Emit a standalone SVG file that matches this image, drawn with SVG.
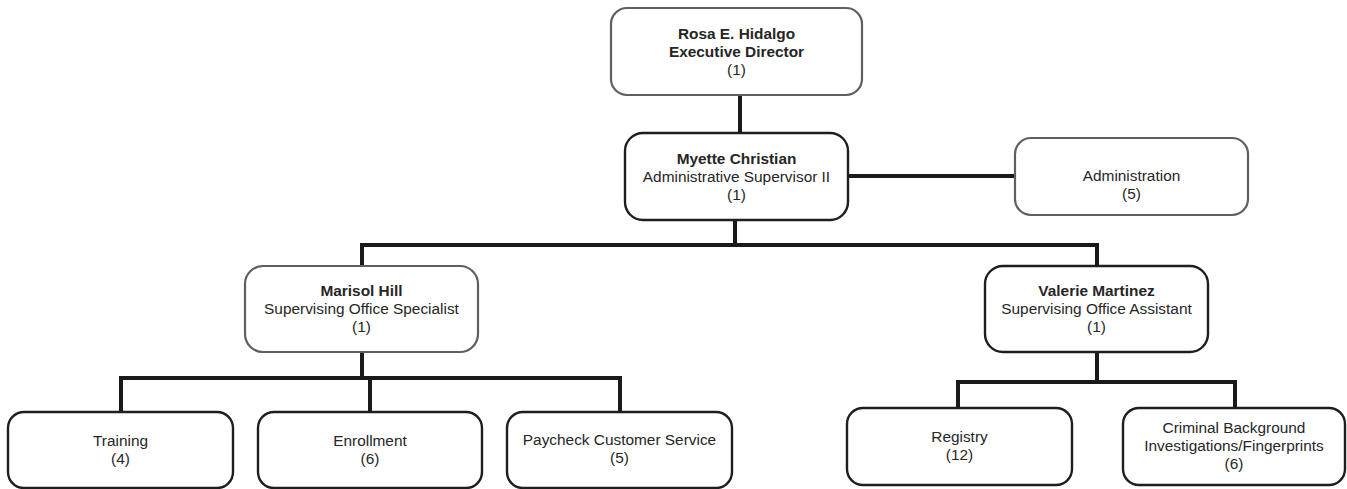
<svg xmlns="http://www.w3.org/2000/svg" width="1347" height="489" viewBox="0 0 1347 489">
<style>
.bg{fill:#ffffff}
.box{fill:#ffffff;stroke:#1e1e1e;stroke-width:2.4}
.gbox{fill:#ffffff;stroke:#5f5f5f;stroke-width:2.2}
.conn{fill:none;stroke:#1a1a1a;stroke-width:4;stroke-linecap:butt;stroke-linejoin:miter}
text{font-family:"Liberation Sans",Arial,sans-serif;font-size:15.4px;fill:#262626;text-anchor:middle}
.b{font-weight:bold}
</style>
<rect class="bg" x="0" y="0" width="1347" height="489"/>
<g id="connectors">
<path class="conn" d="M740 95 V133"/>
<path class="conn" d="M848 176 H1015"/>
<path class="conn" d="M735 220 V245"/>
<path class="conn" d="M362 266 V245 H1097 V266"/>
<path class="conn" d="M362 352 V378"/>
<path class="conn" d="M121 412 V378 H620 V412"/>
<path class="conn" d="M370 378 V412"/>
<path class="conn" d="M1097 352 V382"/>
<path class="conn" d="M958 408 V382 H1235 V408"/>
</g>
<g id="rosa">
<rect class="gbox" x="611" y="8" width="251" height="87" rx="16"/>
<text class="b" x="736.5" y="39">Rosa E. Hidalgo</text>
<text class="b" x="736.5" y="57">Executive Director</text>
<text x="736.5" y="75">(1)</text>
</g>
<g id="myette">
<rect class="box" x="625" y="133" width="223" height="87" rx="18"/>
<text class="b" x="736.5" y="164">Myette Christian</text>
<text x="736.5" y="182">Administrative Supervisor II</text>
<text x="736.5" y="200">(1)</text>
</g>
<g id="administration">
<rect class="gbox" x="1015" y="138" width="233" height="77" rx="16"/>
<text x="1131.5" y="181">Administration</text>
<text x="1131.5" y="199">(5)</text>
</g>
<g id="marisol">
<rect class="gbox" x="245" y="266" width="233" height="86" rx="18"/>
<text class="b" x="361.5" y="296">Marisol Hill</text>
<text x="361.5" y="314">Supervising Office Specialist</text>
<text x="361.5" y="332">(1)</text>
</g>
<g id="valerie">
<rect class="box" x="985" y="266" width="223" height="86" rx="18"/>
<text class="b" x="1096.5" y="296">Valerie Martinez</text>
<text x="1096.5" y="314">Supervising Office Assistant</text>
<text x="1096.5" y="332">(1)</text>
</g>
<g id="training">
<rect class="box" x="8" y="412" width="225" height="76" rx="16"/>
<text x="120.5" y="446">Training</text>
<text x="120.5" y="464">(4)</text>
</g>
<g id="enrollment">
<rect class="box" x="258" y="412" width="224" height="76" rx="16"/>
<text x="370" y="446">Enrollment</text>
<text x="370" y="464">(6)</text>
</g>
<g id="paycheck">
<rect class="box" x="507" y="412" width="225" height="76" rx="16"/>
<text x="619.5" y="445">Paycheck Customer Service</text>
<text x="619.5" y="463">(5)</text>
</g>
<g id="registry">
<rect class="box" x="847" y="408" width="225" height="77" rx="16"/>
<text x="959.5" y="442">Registry</text>
<text x="959.5" y="460">(12)</text>
</g>
<g id="criminal">
<rect class="box" x="1123" y="408" width="222" height="77" rx="16"/>
<text x="1234" y="433">Criminal Background</text>
<text x="1234" y="451">Investigations/Fingerprints</text>
<text x="1234" y="469">(6)</text>
</g>
</svg>
